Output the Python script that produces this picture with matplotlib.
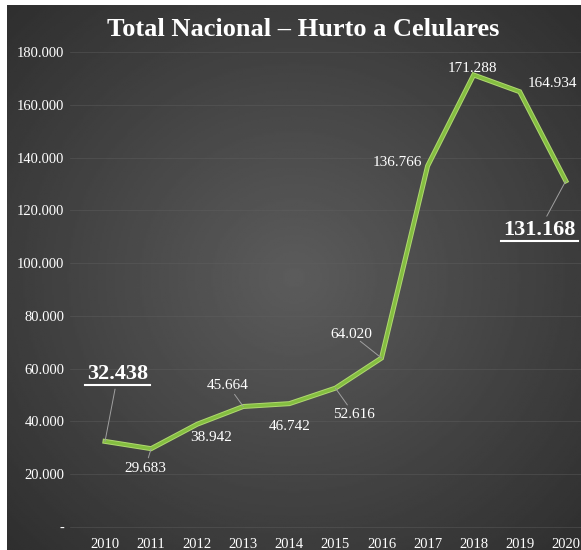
import numpy as np
import matplotlib.pyplot as plt
import matplotlib.patheffects as pe
from matplotlib.lines import Line2D

plt.rcParams['font.family'] = ['Liberation Serif', 'DejaVu Serif']

years = [2010, 2011, 2012, 2013, 2014, 2015, 2016, 2017, 2018, 2019, 2020]
hurtos = [32438, 29683, 38942, 45664, 46742, 52616, 64020, 136766, 171288, 164934, 131168]
yticks = [0, 20000, 40000, 60000, 80000, 100000, 120000, 140000, 160000, 180000]
ytick_labels = ['-', '20.000', '40.000', '60.000', '80.000', '100.000',
                '120.000', '140.000', '160.000', '180.000']

# desplazamiento de etiquetas (años, unidades) y si lleva línea guía
offsets = [(0.28, 25500, True), (-0.13, -7500, True), (0.3, -5000, False),
           (-0.33, 8000, True), (0.0, -8700, False), (0.4, -9800, True),
           (-0.65, 9000, True), (-0.65, 1500, False), (-0.02, 2500, False),
           (0.7, 3000, False), (-0.57, -18500, True)]

W, H = 581, 550
fig = plt.figure(figsize=(W/100, H/100), dpi=100)
fig.patch.set_facecolor('white')

# fondo con degradado
bg = fig.add_axes([7/W, 0, 1 - 7/W, 1 - 5/H])
yy, xx = np.mgrid[0:1:300j, 0:1:300j]
r = np.sqrt((xx - 0.5)**2 + (yy - 0.5)**2)
val = 0.36 - 0.25 * r
bg.imshow(val, cmap='gray', vmin=0, vmax=1, aspect='auto', extent=[0, 1, 0, 1])
bg.axis('off')

ax = fig.add_axes([70/W, (H-535)/H, (W-70)/W, 495/H])
ax.patch.set_alpha(0)
ax.set_xlim(2009.24, 2020.33)
ax.set_ylim(-3031, 184540)

ax.plot(years, hurtos, color='#84be40', lw=2.2, solid_joinstyle='miter',
        path_effects=[pe.Stroke(linewidth=3.6, foreground='#b0d870'), pe.Normal()], zorder=3)

big = []
for i, (x, y) in enumerate(zip(years, hurtos)):
    dx, dy, line = offsets[i]
    txt = f'{y:,}'.replace(',', '.')
    bold = i in (0, 10)
    t = ax.text(x + dx, y + dy, txt, ha='center', va='center', color='white',
                fontsize=16 if bold else 11, fontweight='bold' if bold else 'normal',
                zorder=4)
    if line:
        ax.annotate('', xy=(x, y), xytext=(x + dx, y + dy),
                    arrowprops=dict(arrowstyle='-', color='#a0a0a0', lw=0.7,
                                    shrinkA=11 if bold else 8, shrinkB=0))
    if bold:
        big.append(t)

ax.set_yticks(yticks)
ax.set_yticklabels(ytick_labels)
ax.set_xticks(years)
ax.tick_params(colors='white', labelsize=10.5, length=0)
ax.tick_params(axis='x', pad=2)
ax.tick_params(axis='y', pad=4)
ax.grid(axis='y', color='#606060', lw=0.5, alpha=0.6)
for s in ax.spines.values():
    s.set_visible(False)

fig.text(0.522, 1 - 29/H, 'Total Nacional – Hurto a Celulares', ha='center', va='center',
         color='white', fontsize=19, fontweight='bold')

# subrayado de las etiquetas destacadas
fig.canvas.draw()
for t in big:
    bb = t.get_window_extent().transformed(fig.transFigure.inverted())
    yl = bb.y0 - 1/H
    fig.add_artist(Line2D([bb.x0 - 2/W, bb.x1 + 2/W], [yl, yl], color='white', lw=1.5,
                          transform=fig.transFigure))

fig.savefig('out.png', dpi=100)
